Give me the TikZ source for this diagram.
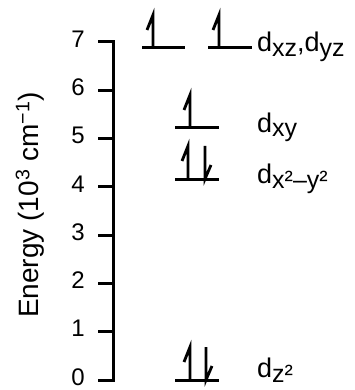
\documentclass[tikz,border=0pt]{standalone}
\usepackage{fontspec}
\setmainfont{Liberation Sans}
\usetikzlibrary{positioning}
\tikzset{
    axisline/.style={line width=3pt},
    level/.style={line width=3pt},
    spin/.style={line width=2.8pt, line join=miter, miter limit=20},
    ticklabel/.style={anchor=east, inner sep=0pt, font=\fontsize{24}{24}\selectfont},
    orblabel/.style={anchor=base west, inner sep=0pt, font=\fontsize{27}{27}\selectfont}
}
% half-arrow spins standing on a level
\newcommand{\spinup}[2]{\draw[spin] (#1,#2) -- ++(0,-33) -- ++(-6,15);}
\newcommand{\spindown}[2]{\draw[spin] (#1,#2) ++(0,-33) -- ++(0,33) -- ++(6,-14);}
\newcommand{\orb}[1]{d\raisebox{-5pt}{\fontsize{25}{25}\selectfont #1}}

\begin{document}
\begin{tikzpicture}[x=1pt,y=-1pt]
    \useasboundingbox (0,0) rectangle (355,390);
    % Axis
    \draw[axisline] (98,42) -- (113,42) -- (113,380) -- (98,380);
    \foreach \e in {1,...,6} \draw[axisline] (98,{380-\e*48.286}) -- (113,{380-\e*48.286});
    \foreach \e in {0,...,7} \node[ticklabel] (t\e) at (85,{377-\e*48.286}) {\e};
    \node[rotate=90,font=\fontsize{28}{28}\selectfont] (ylab) at (30,205) {Energy (10\textsuperscript{3} cm\textsuperscript{−1})};
    % Levels
    \draw[level] (142,48) -- (185,48);
    \draw[level] (208,48) -- (252,48);
    \draw[level] (175,128) -- (219,128);
    \draw[level] (175,179) -- (219,179);
    \draw[level] (175,380) -- (219,380);
    % Electrons
    \spinup{153}{48}
    \spinup{219}{48}
    \spinup{190}{128}
    \spinup{188}{179}
    \spindown{205}{179}
    \spinup{190}{380}
    \spindown{206}{380}
    % Labels
    \node[orblabel] (dxz) at (257,52) {\orb{xz},\orb{yz}};
    \node[orblabel] (dxy) at (257,132) {\orb{xy}};
    \node[orblabel] (dx2y2) at (257,183) {\orb{x²–y²}};
    \node[orblabel] (dz2) at (257,377) {\orb{z²}};
\end{tikzpicture}
\end{document}
